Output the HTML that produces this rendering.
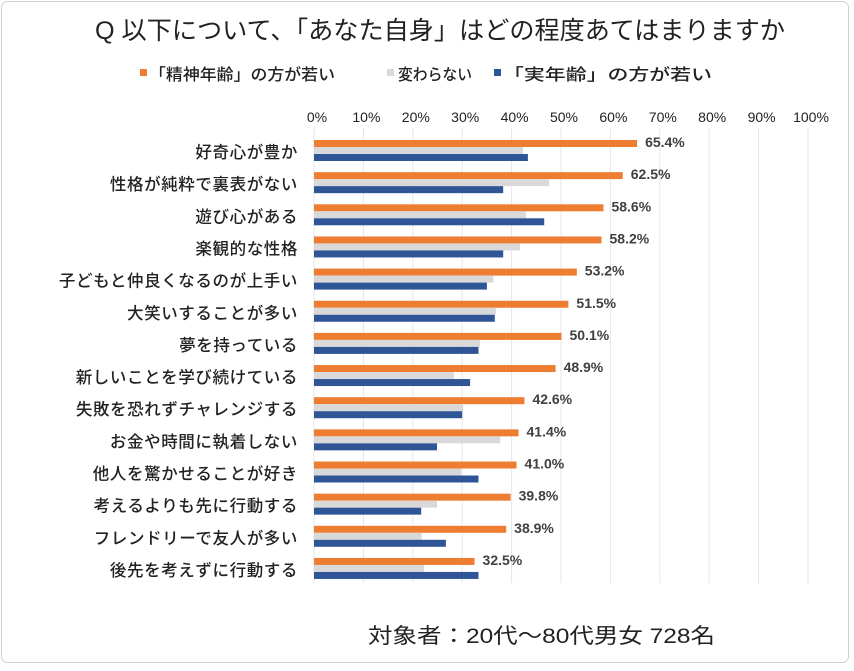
<!DOCTYPE html>
<html><head><meta charset="utf-8"><style>
html,body{margin:0;padding:0;background:#fff;}
body{width:854px;height:666px;overflow:hidden;font-family:"Liberation Sans","Noto Sans CJK JP",sans-serif;}
</style></head><body>
<svg id="chart" width="854" height="666" xmlns="http://www.w3.org/2000/svg" style="font-family:'Liberation Sans','Noto Sans CJK JP',sans-serif">
<rect x="1.5" y="1.5" width="847" height="661" rx="6" fill="#fff" stroke="#d0d0d0"/>
<text x="95" y="39" font-size="25" textLength="690" lengthAdjust="spacingAndGlyphs" fill="#222">Q 以下について、「あなた自身」はどの程度あてはまりますか</text>
<g font-size="16" fill="#222" font-weight="500">
<rect x="140" y="69" width="7" height="7" fill="#ed7d31"/>
<text x="149" y="80" textLength="186" lengthAdjust="spacingAndGlyphs">「精神年齢」の方が若い</text>
<rect x="387" y="69" width="7" height="7" fill="#d9d9d9"/>
<text x="398" y="80" textLength="74" lengthAdjust="spacingAndGlyphs">変わらない</text>
<rect x="494" y="69" width="7" height="7" fill="#2f5597"/>
<text x="503" y="80" textLength="209" lengthAdjust="spacingAndGlyphs">「実年齢」の方が若い</text>
</g>
<g id="grid"></g><g id="bars"></g><g id="labels"></g>
<text x="368" y="643" font-size="21" textLength="347" lengthAdjust="spacingAndGlyphs" fill="#222">対象者：20代～80代男女 728名</text>
</svg>
<script>
const categories=["好奇心が豊か","性格が純粋で裏表がない","遊び心がある","楽観的な性格","子どもと仲良くなるのが上手い","大笑いすることが多い","夢を持っている","新しいことを学び続けている","失敗を恐れずチャレンジする","お金や時間に執着しない","他人を驚かせることが好き","考えるよりも先に行動する","フレンドリーで友人が多い","後先を考えずに行動する"];
const mentalYounger=[65.4,62.5,58.6,58.2,53.2,51.5,50.1,48.9,42.6,41.4,41.0,39.8,38.9,32.5];
const noChange=[42.3,47.6,42.9,41.7,36.3,36.8,33.6,28.3,30.2,37.7,29.8,24.9,21.8,22.3];
const actualYounger=[43.3,38.3,46.6,38.3,35.0,36.6,33.3,31.6,30.0,24.9,33.3,21.7,26.7,33.3];
const ticks=[0,10,20,30,40,50,60,70,80,90,100];
const NS="http://www.w3.org/2000/svg";
const x0=314,x1=808,yTop=132,pitch=32.15;
const xs=v=>x0+(x1-x0)*v/100;
const rowY=i=>yTop+i*pitch;
function mk(tag,attrs,parent,txt){const e=document.createElementNS(NS,tag);for(const k in attrs)e.setAttribute(k,attrs[k]);if(txt!==undefined)e.textContent=txt;parent.appendChild(e);return e;}
const grid=document.getElementById('grid'),bars=document.getElementById('bars'),labels=document.getElementById('labels');
ticks.forEach(t=>{
  const l=mk('line',{x1:xs(t),x2:xs(t),y1:128,y2:583,stroke:'#e6e6e6','stroke-width':1},grid);
  
  
  const tx=mk('text',{x:xs(t)+3,y:122,'font-size':14,'font-weight':'500','text-anchor':'middle',fill:'#222'},grid,t+'%');
  
  
});
const series=[[mentalYounger,'#ed7d31','mental'],[noChange,'#d9d9d9','same'],[actualYounger,'#2f5597','actual']];
categories.forEach((c,i)=>{
  const y=rowY(i);
  series.forEach((s,j)=>{
    const r=mk('rect',{x:x0,y:y+8+j*7,width:xs(s[0][i])-x0,height:7,fill:s[1]},bars);
    
    
  });
  const t=mk('text',{x:298,y:y+26,'font-size':16.5,'font-weight':'500','text-anchor':'end',fill:'#222','letter-spacing':'0.6'},labels,c);
  
  
  const v=mk('text',{x:xs(mentalYounger[i])+8,y:y+15,'font-size':14,'font-weight':'bold',fill:'#404040'},labels,mentalYounger[i].toFixed(1)+'%');
  
  
});
</script>
</body></html>
